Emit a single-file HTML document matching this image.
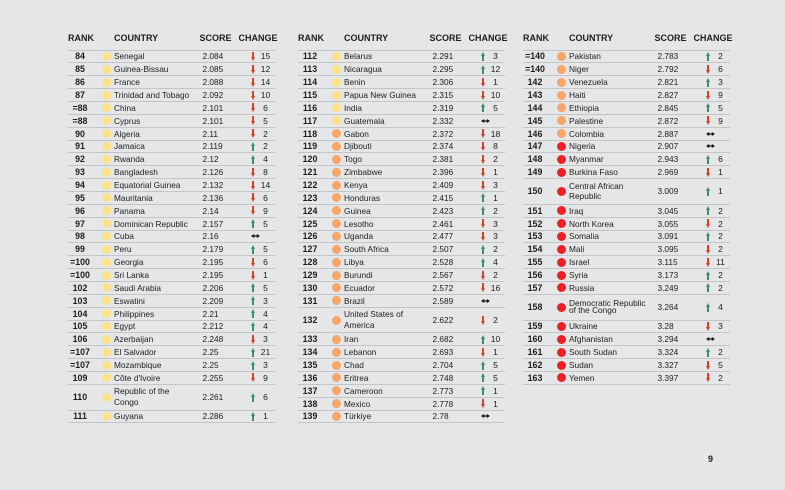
<!DOCTYPE html>
<html><head><meta charset="utf-8">
<style>
html,body{margin:0;padding:0;}
body{width:785px;height:490px;background:#e5e6e8;position:relative;overflow:hidden;font-family:"Liberation Sans",Arial,sans-serif;color:#1d1d1b;}
.col{position:absolute;top:49.5px;width:207px;border-top:1px solid #c4c5c7;}
.hd{position:absolute;top:33px;height:10px;line-height:10px;font-size:9px;font-weight:bold;white-space:nowrap;}
.row{position:relative;height:12.86px;border-bottom:1px solid #c4c5c7;box-sizing:border-box;font-size:8.3px;}
.row.dbl{height:25.72px;}
.r,.c,.s,.n{position:absolute;top:0;height:100%;display:flex;align-items:center;white-space:nowrap;}
.r{left:0;width:24px;justify-content:center;font-weight:bold;font-size:8.8px;}
.c{left:46px;}
.c span{display:block;}
.s{left:134.5px;}
.n{left:190px;width:15px;justify-content:center;font-size:8.5px;}
.d{position:absolute;left:33.5px;top:50%;margin-top:-4.5px;width:9px;height:9px;border-radius:50%;}
.y{background:#fce28c;}
.o{background:#f6a66a;}
.e{background:#ec2127;}
.up,.dn{position:absolute;left:182.5px;width:5px;height:9px;top:50%;margin-top:-4.5px;}
.up::before{content:"";position:absolute;left:1.9px;width:1.3px;top:3px;bottom:0;background:#3e8c70;}
.up::after{content:"";position:absolute;left:0;top:0;width:0;height:0;border-left:2.5px solid transparent;border-right:2.5px solid transparent;border-bottom:4px solid #3e8c70;}
.dn::before{content:"";position:absolute;left:1.9px;width:1.3px;top:0;bottom:3px;background:#d8402c;}
.dn::after{content:"";position:absolute;left:0;bottom:0;width:0;height:0;border-left:2.5px solid transparent;border-right:2.5px solid transparent;border-top:4px solid #d8402c;}
.lr{position:absolute;left:183.2px;top:50%;margin-top:-2px;width:9px;height:4px;}
.pg{position:absolute;left:708px;top:454px;font-size:9px;font-weight:bold;}
</style></head><body>

<!-- Column 1 headers -->
<div class="hd" style="left:68px">RANK</div>
<div class="hd" style="left:114px">COUNTRY</div>
<div class="hd" style="left:199.5px">SCORE</div>
<div class="hd" style="left:238.5px">CHANGE</div>
<!-- Column 2 headers -->
<div class="hd" style="left:298px">RANK</div>
<div class="hd" style="left:344px">COUNTRY</div>
<div class="hd" style="left:429.5px">SCORE</div>
<div class="hd" style="left:468.5px">CHANGE</div>
<!-- Column 3 headers -->
<div class="hd" style="left:523px">RANK</div>
<div class="hd" style="left:569px">COUNTRY</div>
<div class="hd" style="left:654.5px">SCORE</div>
<div class="hd" style="left:693.5px">CHANGE</div>

<div class="col" style="left:68px">
<div class="row"><div class="r">84</div><i class="d y"></i><div class="c">Senegal</div><div class="s">2.084</div><i class="dn"></i><div class="n">15</div></div>
<div class="row"><div class="r">85</div><i class="d y"></i><div class="c">Guinea-Bissau</div><div class="s">2.085</div><i class="dn"></i><div class="n">12</div></div>
<div class="row"><div class="r">86</div><i class="d y"></i><div class="c">France</div><div class="s">2.088</div><i class="dn"></i><div class="n">14</div></div>
<div class="row"><div class="r">87</div><i class="d y"></i><div class="c">Trinidad and Tobago</div><div class="s">2.092</div><i class="dn"></i><div class="n">10</div></div>
<div class="row"><div class="r">=88</div><i class="d y"></i><div class="c">China</div><div class="s">2.101</div><i class="dn"></i><div class="n">6</div></div>
<div class="row"><div class="r">=88</div><i class="d y"></i><div class="c">Cyprus</div><div class="s">2.101</div><i class="dn"></i><div class="n">5</div></div>
<div class="row"><div class="r">90</div><i class="d y"></i><div class="c">Algeria</div><div class="s">2.11</div><i class="dn"></i><div class="n">2</div></div>
<div class="row"><div class="r">91</div><i class="d y"></i><div class="c">Jamaica</div><div class="s">2.119</div><i class="up"></i><div class="n">2</div></div>
<div class="row"><div class="r">92</div><i class="d y"></i><div class="c">Rwanda</div><div class="s">2.12</div><i class="up"></i><div class="n">4</div></div>
<div class="row"><div class="r">93</div><i class="d y"></i><div class="c">Bangladesh</div><div class="s">2.126</div><i class="dn"></i><div class="n">8</div></div>
<div class="row"><div class="r">94</div><i class="d y"></i><div class="c">Equatorial Guinea</div><div class="s">2.132</div><i class="dn"></i><div class="n">14</div></div>
<div class="row"><div class="r">95</div><i class="d y"></i><div class="c">Mauritania</div><div class="s">2.136</div><i class="dn"></i><div class="n">6</div></div>
<div class="row"><div class="r">96</div><i class="d y"></i><div class="c">Panama</div><div class="s">2.14</div><i class="dn"></i><div class="n">9</div></div>
<div class="row"><div class="r">97</div><i class="d y"></i><div class="c">Dominican Republic</div><div class="s">2.157</div><i class="up"></i><div class="n">5</div></div>
<div class="row"><div class="r">98</div><i class="d y"></i><div class="c">Cuba</div><div class="s">2.16</div><svg class="lr" viewBox="0 0 9 4"><path d="M0 2L3.2 0V4Z M9 2L5.8 0V4Z" fill="#111"/><rect x="2.5" y="1.4" width="4" height="1.2" fill="#111"/></svg></div>
<div class="row"><div class="r">99</div><i class="d y"></i><div class="c">Peru</div><div class="s">2.179</div><i class="up"></i><div class="n">5</div></div>
<div class="row"><div class="r">=100</div><i class="d y"></i><div class="c">Georgia</div><div class="s">2.195</div><i class="dn"></i><div class="n">6</div></div>
<div class="row"><div class="r">=100</div><i class="d y"></i><div class="c">Sri Lanka</div><div class="s">2.195</div><i class="dn"></i><div class="n">1</div></div>
<div class="row"><div class="r">102</div><i class="d y"></i><div class="c">Saudi Arabia</div><div class="s">2.206</div><i class="up"></i><div class="n">5</div></div>
<div class="row"><div class="r">103</div><i class="d y"></i><div class="c">Eswatini</div><div class="s">2.209</div><i class="up"></i><div class="n">3</div></div>
<div class="row"><div class="r">104</div><i class="d y"></i><div class="c">Philippines</div><div class="s">2.21</div><i class="up"></i><div class="n">4</div></div>
<div class="row"><div class="r">105</div><i class="d y"></i><div class="c">Egypt</div><div class="s">2.212</div><i class="up"></i><div class="n">4</div></div>
<div class="row"><div class="r">106</div><i class="d y"></i><div class="c">Azerbaijan</div><div class="s">2.248</div><i class="dn"></i><div class="n">3</div></div>
<div class="row"><div class="r">=107</div><i class="d y"></i><div class="c">El Salvador</div><div class="s">2.25</div><i class="up"></i><div class="n">21</div></div>
<div class="row"><div class="r">=107</div><i class="d y"></i><div class="c">Mozambique</div><div class="s">2.25</div><i class="up"></i><div class="n">3</div></div>
<div class="row"><div class="r">109</div><i class="d y"></i><div class="c">Côte d'Ivoire</div><div class="s">2.255</div><i class="dn"></i><div class="n">9</div></div>
<div class="row dbl"><div class="r">110</div><i class="d y"></i><div class="c" style="line-height:11px"><span>Republic of the<br>Congo</span></div><div class="s">2.261</div><i class="up"></i><div class="n">6</div></div>
<div class="row"><div class="r">111</div><i class="d y"></i><div class="c">Guyana</div><div class="s">2.286</div><i class="up"></i><div class="n">1</div></div>
</div>

<div class="col" style="left:298px">
<div class="row"><div class="r">112</div><i class="d y"></i><div class="c">Belarus</div><div class="s">2.291</div><i class="up"></i><div class="n">3</div></div>
<div class="row"><div class="r">113</div><i class="d y"></i><div class="c">Nicaragua</div><div class="s">2.295</div><i class="up"></i><div class="n">12</div></div>
<div class="row"><div class="r">114</div><i class="d y"></i><div class="c">Benin</div><div class="s">2.306</div><i class="dn"></i><div class="n">1</div></div>
<div class="row"><div class="r">115</div><i class="d y"></i><div class="c">Papua New Guinea</div><div class="s">2.315</div><i class="dn"></i><div class="n">10</div></div>
<div class="row"><div class="r">116</div><i class="d y"></i><div class="c">India</div><div class="s">2.319</div><i class="up"></i><div class="n">5</div></div>
<div class="row"><div class="r">117</div><i class="d y"></i><div class="c">Guatemala</div><div class="s">2.332</div><svg class="lr" viewBox="0 0 9 4"><path d="M0 2L3.2 0V4Z M9 2L5.8 0V4Z" fill="#111"/><rect x="2.5" y="1.4" width="4" height="1.2" fill="#111"/></svg></div>
<div class="row"><div class="r">118</div><i class="d o"></i><div class="c">Gabon</div><div class="s">2.372</div><i class="dn"></i><div class="n">18</div></div>
<div class="row"><div class="r">119</div><i class="d o"></i><div class="c">Djibouti</div><div class="s">2.374</div><i class="dn"></i><div class="n">8</div></div>
<div class="row"><div class="r">120</div><i class="d o"></i><div class="c">Togo</div><div class="s">2.381</div><i class="dn"></i><div class="n">2</div></div>
<div class="row"><div class="r">121</div><i class="d o"></i><div class="c">Zimbabwe</div><div class="s">2.396</div><i class="dn"></i><div class="n">1</div></div>
<div class="row"><div class="r">122</div><i class="d o"></i><div class="c">Kenya</div><div class="s">2.409</div><i class="dn"></i><div class="n">3</div></div>
<div class="row"><div class="r">123</div><i class="d o"></i><div class="c">Honduras</div><div class="s">2.415</div><i class="up"></i><div class="n">1</div></div>
<div class="row"><div class="r">124</div><i class="d o"></i><div class="c">Guinea</div><div class="s">2.423</div><i class="up"></i><div class="n">2</div></div>
<div class="row"><div class="r">125</div><i class="d o"></i><div class="c">Lesotho</div><div class="s">2.461</div><i class="dn"></i><div class="n">3</div></div>
<div class="row"><div class="r">126</div><i class="d o"></i><div class="c">Uganda</div><div class="s">2.477</div><i class="dn"></i><div class="n">3</div></div>
<div class="row"><div class="r">127</div><i class="d o"></i><div class="c">South Africa</div><div class="s">2.507</div><i class="up"></i><div class="n">2</div></div>
<div class="row"><div class="r">128</div><i class="d o"></i><div class="c">Libya</div><div class="s">2.528</div><i class="up"></i><div class="n">4</div></div>
<div class="row"><div class="r">129</div><i class="d o"></i><div class="c">Burundi</div><div class="s">2.567</div><i class="dn"></i><div class="n">2</div></div>
<div class="row"><div class="r">130</div><i class="d o"></i><div class="c">Ecuador</div><div class="s">2.572</div><i class="dn"></i><div class="n">16</div></div>
<div class="row"><div class="r">131</div><i class="d o"></i><div class="c">Brazil</div><div class="s">2.589</div><svg class="lr" viewBox="0 0 9 4"><path d="M0 2L3.2 0V4Z M9 2L5.8 0V4Z" fill="#111"/><rect x="2.5" y="1.4" width="4" height="1.2" fill="#111"/></svg></div>
<div class="row dbl"><div class="r">132</div><i class="d o"></i><div class="c" style="line-height:10.7px"><span>United States of<br>America</span></div><div class="s">2.622</div><i class="dn"></i><div class="n">2</div></div>
<div class="row"><div class="r">133</div><i class="d o"></i><div class="c">Iran</div><div class="s">2.682</div><i class="up"></i><div class="n">10</div></div>
<div class="row"><div class="r">134</div><i class="d o"></i><div class="c">Lebanon</div><div class="s">2.693</div><i class="dn"></i><div class="n">1</div></div>
<div class="row"><div class="r">135</div><i class="d o"></i><div class="c">Chad</div><div class="s">2.704</div><i class="up"></i><div class="n">5</div></div>
<div class="row"><div class="r">136</div><i class="d o"></i><div class="c">Eritrea</div><div class="s">2.748</div><i class="up"></i><div class="n">5</div></div>
<div class="row"><div class="r">137</div><i class="d o"></i><div class="c">Cameroon</div><div class="s">2.773</div><i class="up"></i><div class="n">1</div></div>
<div class="row"><div class="r">138</div><i class="d o"></i><div class="c">Mexico</div><div class="s">2.778</div><i class="dn"></i><div class="n">1</div></div>
<div class="row"><div class="r">139</div><i class="d o"></i><div class="c">Türkiye</div><div class="s">2.78</div><svg class="lr" viewBox="0 0 9 4"><path d="M0 2L3.2 0V4Z M9 2L5.8 0V4Z" fill="#111"/><rect x="2.5" y="1.4" width="4" height="1.2" fill="#111"/></svg></div>
</div>

<div class="col" style="left:523px">
<div class="row"><div class="r">=140</div><i class="d o"></i><div class="c">Pakistan</div><div class="s">2.783</div><i class="up"></i><div class="n">2</div></div>
<div class="row"><div class="r">=140</div><i class="d o"></i><div class="c">Niger</div><div class="s">2.792</div><i class="dn"></i><div class="n">6</div></div>
<div class="row"><div class="r">142</div><i class="d o"></i><div class="c">Venezuela</div><div class="s">2.821</div><i class="up"></i><div class="n">3</div></div>
<div class="row"><div class="r">143</div><i class="d o"></i><div class="c">Haiti</div><div class="s">2.827</div><i class="dn"></i><div class="n">9</div></div>
<div class="row"><div class="r">144</div><i class="d o"></i><div class="c">Ethiopia</div><div class="s">2.845</div><i class="up"></i><div class="n">5</div></div>
<div class="row"><div class="r">145</div><i class="d o"></i><div class="c">Palestine</div><div class="s">2.872</div><i class="dn"></i><div class="n">9</div></div>
<div class="row"><div class="r">146</div><i class="d o"></i><div class="c">Colombia</div><div class="s">2.887</div><svg class="lr" viewBox="0 0 9 4"><path d="M0 2L3.2 0V4Z M9 2L5.8 0V4Z" fill="#111"/><rect x="2.5" y="1.4" width="4" height="1.2" fill="#111"/></svg></div>
<div class="row"><div class="r">147</div><i class="d e"></i><div class="c">Nigeria</div><div class="s">2.907</div><svg class="lr" viewBox="0 0 9 4"><path d="M0 2L3.2 0V4Z M9 2L5.8 0V4Z" fill="#111"/><rect x="2.5" y="1.4" width="4" height="1.2" fill="#111"/></svg></div>
<div class="row"><div class="r">148</div><i class="d e"></i><div class="c">Myanmar</div><div class="s">2.943</div><i class="up"></i><div class="n">6</div></div>
<div class="row"><div class="r">149</div><i class="d e"></i><div class="c">Burkina Faso</div><div class="s">2.969</div><i class="dn"></i><div class="n">1</div></div>
<div class="row dbl"><div class="r">150</div><i class="d e"></i><div class="c" style="line-height:10px"><span>Central African<br>Republic</span></div><div class="s">3.009</div><i class="up"></i><div class="n">1</div></div>
<div class="row"><div class="r">151</div><i class="d e"></i><div class="c">Iraq</div><div class="s">3.045</div><i class="up"></i><div class="n">2</div></div>
<div class="row"><div class="r">152</div><i class="d e"></i><div class="c">North Korea</div><div class="s">3.055</div><i class="dn"></i><div class="n">2</div></div>
<div class="row"><div class="r">153</div><i class="d e"></i><div class="c">Somalia</div><div class="s">3.091</div><i class="up"></i><div class="n">2</div></div>
<div class="row"><div class="r">154</div><i class="d e"></i><div class="c">Mali</div><div class="s">3.095</div><i class="dn"></i><div class="n">2</div></div>
<div class="row"><div class="r">155</div><i class="d e"></i><div class="c">Israel</div><div class="s">3.115</div><i class="dn"></i><div class="n">11</div></div>
<div class="row"><div class="r">156</div><i class="d e"></i><div class="c">Syria</div><div class="s">3.173</div><i class="up"></i><div class="n">2</div></div>
<div class="row"><div class="r">157</div><i class="d e"></i><div class="c">Russia</div><div class="s">3.249</div><i class="up"></i><div class="n">2</div></div>
<div class="row dbl"><div class="r">158</div><i class="d e"></i><div class="c" style="line-height:7.5px"><span>Democratic Republic<br>of the Congo</span></div><div class="s">3.264</div><i class="up"></i><div class="n">4</div></div>
<div class="row"><div class="r">159</div><i class="d e"></i><div class="c">Ukraine</div><div class="s">3.28</div><i class="dn"></i><div class="n">3</div></div>
<div class="row"><div class="r">160</div><i class="d e"></i><div class="c">Afghanistan</div><div class="s">3.294</div><svg class="lr" viewBox="0 0 9 4"><path d="M0 2L3.2 0V4Z M9 2L5.8 0V4Z" fill="#111"/><rect x="2.5" y="1.4" width="4" height="1.2" fill="#111"/></svg></div>
<div class="row"><div class="r">161</div><i class="d e"></i><div class="c">South Sudan</div><div class="s">3.324</div><i class="up"></i><div class="n">2</div></div>
<div class="row"><div class="r">162</div><i class="d e"></i><div class="c">Sudan</div><div class="s">3.327</div><i class="dn"></i><div class="n">5</div></div>
<div class="row"><div class="r">163</div><i class="d e"></i><div class="c">Yemen</div><div class="s">3.397</div><i class="dn"></i><div class="n">2</div></div>
</div>

<div class="pg">9</div>
</body></html>
